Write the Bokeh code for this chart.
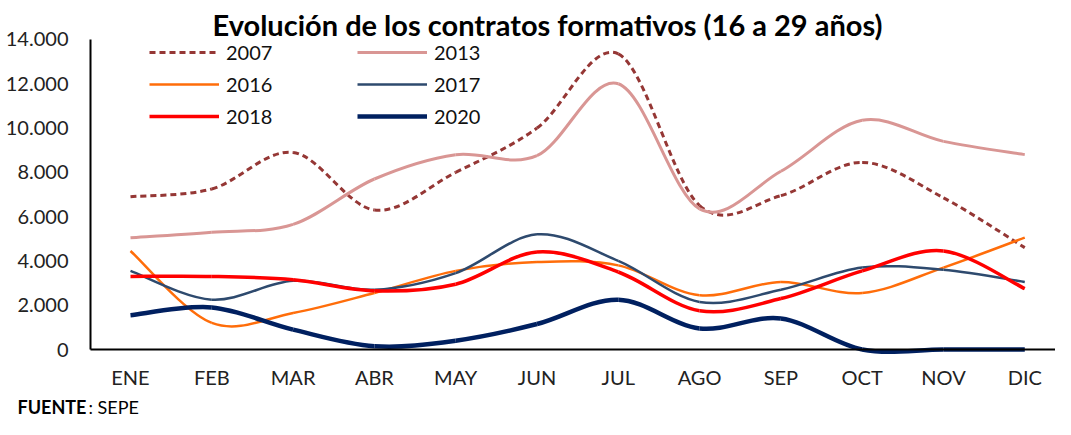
from bokeh.plotting import figure
from bokeh.models import Range1d, FixedTicker, Legend, LegendItem, Label, ColumnDataSource
from bokeh.embed import file_html
from bokeh.resources import INLINE

months = ["ENE", "FEB", "MAR", "ABR", "MAY", "JUN", "JUL", "AGO", "SEP", "OCT", "NOV", "DIC"]
y_ticks = [0, 2000, 4000, 6000, 8000, 10000, 12000, 14000]
y_tick_labels = ["0", "2.000", "4.000", "6.000", "8.000", "10.000", "12.000", "14.000"]

s2007 = [6900, 7250, 8900, 6300, 8000, 10000, 13350, 6500, 6950, 8450, 6850, 4600]
s2013 = [5050, 5300, 5650, 7700, 8800, 8750, 12000, 6350, 8050, 10350, 9400, 8800]
s2016 = [4450, 1200, 1650, 2550, 3550, 3950, 3800, 2450, 3050, 2550, 3700, 5050]
s2017 = [3550, 2250, 3100, 2700, 3450, 5200, 4000, 2150, 2700, 3700, 3600, 3050]
s2018 = [3300, 3300, 3150, 2650, 2950, 4400, 3500, 1750, 2300, 3550, 4450, 2750]
s2020 = [1550, 1900, 900, 150, 400, 1150, 2250, 950, 1400, 0, 0, 0]

series = [
    ("2007", s2007, "#953735", 3, "6 4"),
    ("2013", s2013, "#D99694", 3, "solid"),
    ("2016", s2016, "#FF6D0A", 2.5, "solid"),
    ("2017", s2017, "#2E4A6E", 2.5, "solid"),
    ("2018", s2018, "#FF0000", 3.5, "solid"),
    ("2020", s2020, "#002060", 4.5, "solid"),
]

FONT = "Lato"
W, H = 1055, 419

# the frame fills the whole figure; axes are pinned inside it
X_LO, X_HI = -1.599, 11.378
Y_LO, Y_HI = -3161, 15761
X_AXIS_LEFT = -0.492

p = figure(width=W, height=H, output_backend="svg", toolbar_location=None,
           x_range=Range1d(X_LO, X_HI), y_range=Range1d(Y_LO, Y_HI),
           min_border_left=0, min_border_right=0, min_border_top=0, min_border_bottom=0,
           background_fill_color="white", border_fill_color="white")
p.outline_line_color = None
p.xgrid.visible = False
p.ygrid.visible = False


def smooth_source(vals):
    n = len(vals)
    xs = list(range(n))
    d = dict(x0=[], y0=[], x1=[], y1=[], cx0=[], cy0=[], cx1=[], cy1=[])
    for i in range(n - 1):
        i0 = max(i - 1, 0)
        i3 = min(i + 2, n - 1)
        d["x0"].append(xs[i]); d["y0"].append(vals[i])
        d["x1"].append(xs[i + 1]); d["y1"].append(vals[i + 1])
        d["cx0"].append(xs[i] + (xs[i + 1] - xs[i0]) / 6)
        d["cy0"].append(vals[i] + (vals[i + 1] - vals[i0]) / 6)
        d["cx1"].append(xs[i + 1] - (xs[i3] - xs[i]) / 6)
        d["cy1"].append(vals[i + 1] - (vals[i3] - vals[i]) / 6)
    return ColumnDataSource(d)


legend_renderers = {}
for name, vals, color, w, dash in series:
    src = smooth_source(vals)
    p.bezier(x0="x0", y0="y0", x1="x1", y1="y1", cx0="cx0", cy0="cy0", cx1="cx1", cy1="cy1",
             source=src, line_color=color, line_width=w, line_dash=dash)
    # legend-only line, placed outside the visible x range
    legend_renderers[name] = p.line(x=[-9, -8], y=[0, 0], line_color=color, line_width=w,
                                    line_dash=dash)


def make_legend(names, x, y):
    lg = Legend(items=[LegendItem(label=n, renderers=[legend_renderers[n]]) for n in names],
                location=(x, y), orientation="vertical", glyph_width=70, glyph_height=20,
                label_height=20, spacing=8, label_standoff=7, padding=0, margin=0,
                border_line_color=None, background_fill_alpha=0,
                label_text_font=FONT, label_text_font_size="20px", label_text_color="#111111")
    p.add_layout(lg, "center")


make_legend(["2007", "2016", "2018"], 149, 291)
make_legend(["2013", "2017", "2020"], 357, 291)

# axes, pinned at y=0 and at the left edge of the plot area
p.yaxis.fixed_location = X_AXIS_LEFT
p.yaxis.bounds = (0, 14000)
p.xaxis.fixed_location = 0
p.xaxis.bounds = (X_AXIS_LEFT, X_HI)
p.yaxis.ticker = FixedTicker(ticks=y_ticks)
p.yaxis.major_label_overrides = {t: l for t, l in zip(y_ticks, y_tick_labels)}
p.xaxis.ticker = FixedTicker(ticks=list(range(len(months))))
p.xaxis.major_label_overrides = {i: m for i, m in enumerate(months)}
for ax in (p.xaxis, p.yaxis):
    ax.axis_line_color = "black"
    ax.axis_line_width = 2
    ax.major_tick_line_color = None
    ax.minor_tick_line_color = None
    ax.major_label_text_font = FONT
    ax.major_label_text_font_size = "20px"
    ax.major_label_text_color = "#222222"
p.yaxis.major_label_standoff = 16
p.xaxis.major_label_standoff = 9

title = Label(x=547, y=H - 24, x_units="screen", y_units="screen",
              text="Evolución de los contratos formativos (16 a 29 años)",
              text_align="center", text_baseline="middle",
              text_font=FONT, text_font_style="bold", text_font_size="29px", text_color="black")
p.add_layout(title)

src_b = Label(x=17, y=13, x_units="screen", y_units="screen", text="FUENTE",
              text_align="left", text_baseline="middle",
              text_font=FONT, text_font_style="bold", text_font_size="18px", text_color="black")
src_n = Label(x=88, y=13, x_units="screen", y_units="screen", text=": SEPE",
              text_align="left", text_baseline="middle",
              text_font=FONT, text_font_size="18px", text_color="black")
p.add_layout(src_b)
p.add_layout(src_n)

open("out.html", "w").write(file_html(p, INLINE))
